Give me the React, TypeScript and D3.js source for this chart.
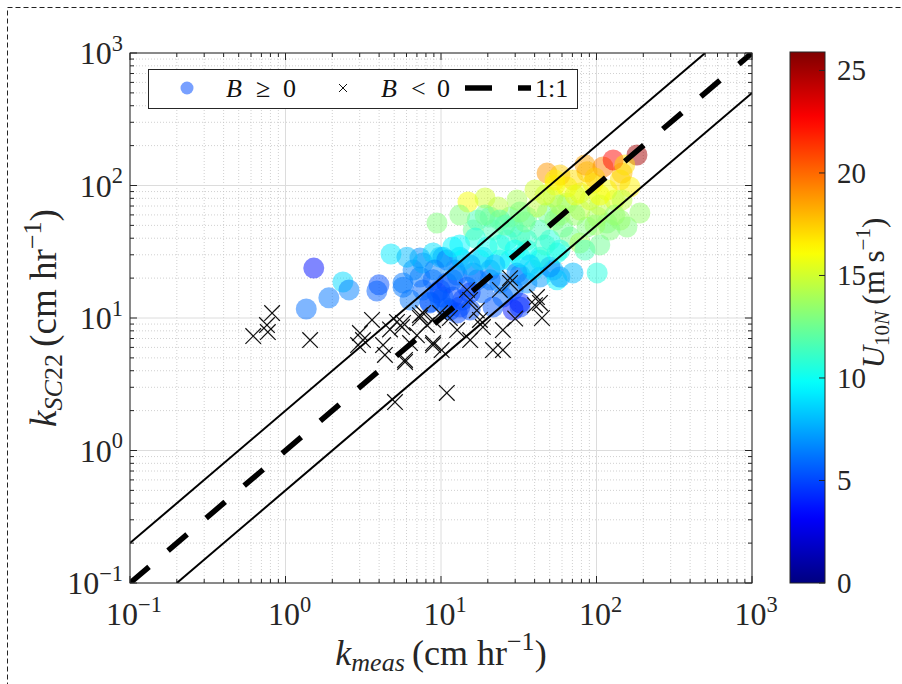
import React from 'react';
import * as d3 from 'd3';

// ---- data: B >= 0 (circles) ----
const kMeasPos = [1.52, 1.36, 1.90, 2.34, 2.56, 3.99, 3.87, 4.77, 5.70, 7.32, 8.89, 7.32, 8.49, 9.86, 10.3, 10.9, 9.42,
  5.70, 6.61, 7.66, 8.89, 9.42, 8.49, 11.9, 13.2, 14.7, 17.1, 18.6, 21.6, 25.0, 29.1, 32.2, 23.9, 35.7, 43.3, 52.5, 55.7,
  6.04, 9.86, 13.2, 18.6, 27.8, 43.3, 10.9, 12.7, 15.4, 11.4, 9.86, 13.8, 20.7, 29.1, 32.2, 7.66, 6.32, 12.7, 15.4,
  58.2, 70.6, 50.2, 39.1, 30.8, 20.7, 16.1, 11.9, 10.3, 32.2, 101,
  10.9, 13.8, 17.8, 23.9, 32.2, 43.3, 55.7, 35.7, 11.9, 19.8, 26.6, 35.7, 50.2, 67.6, 78.3,
  21.6, 29.1, 43.3, 60.9, 86.9, 117, 157, 16.1, 17.1, 20.7, 27.8, 35.7, 48.1, 64.6, 78.3, 101, 142, 190,
  14.9, 19.2, 23.3, 30.8, 41.4, 52.5, 78.3, 117, 94.9, 164, 64.6, 70.6, 48.1, 86.9, 146, 110, 128, 182,
  23.9, 32.2, 58.2, 90.8, 105, 131, 40.2, 54.0, 142, 84.3, 105, 146, 122,
  13.2, 16.6, 23.9, 29.9, 46.7, 58.2, 15.4, 22.2, 37.3, 12.3, 9.1,
  25.8, 34.7, 54.0, 72.8, 97.7, 131, 58.2, 32.2, 19.2, 13.2, 46.7, 72.8, 105,
  84.3, 58.2, 152, 97.7, 54.0];
const kSc22Pos = [23.8, 11.7, 14.2, 18.7, 16.3, 17.8, 16.0, 30.4, 17.1, 28.4, 31.0, 20.4, 13.2, 16.3, 28.8, 11.9, 52.1,
  18.4, 23.0, 26.0, 19.4, 15.5, 13.0, 14.4, 12.1, 17.1, 19.4, 15.5, 12.1, 14.4, 11.5, 12.1, 18.4, 18.4, 20.4, 23.0, 19.4,
  28.8, 28.8, 28.8, 28.8, 27.4, 27.4, 18.4, 21.1, 15.5, 11.5, 13.7, 13.7, 23.0, 16.3, 21.1, 16.3, 13.7, 10.9, 11.5,
  20.4, 21.9, 24.3, 23.0, 21.9, 19.4, 21.9, 19.4, 14.4, 13.0, 21.9,
  27.4, 27.4, 27.4, 27.4, 28.8, 28.8, 31.0, 32.6, 34.4, 34.4, 38.8, 38.8, 38.8, 40.8, 36.8,
  46.1, 48.6, 46.1, 48.6, 48.6, 52.1, 48.6, 46.1, 54.9, 57.8, 57.8, 57.8, 62.0, 73.8, 65.3, 57.8, 54.9, 62.0,
  75.1, 80.5, 68.9, 77.8, 68.9, 81.8, 87.8, 92.4, 104, 97.5, 97.5, 110, 124, 127, 124, 138, 156, 170,
  54.9, 42.3, 59.8, 77.8, 71.3, 77.8, 92.4, 101, 110, 32.6, 35.6, 77.8, 46.1,
  35.6, 40.2, 35.6, 32.6, 35.6, 32.6, 25.1, 25.1, 25.1, 23.0, 23.0,
  50.3, 53.1, 54.9, 59.8, 50.3, 59.8, 71.3, 63.1, 59.8, 59.8, 84.7, 84.7, 84.7,
  143, 120, 143, 114, 110];
const u10Pos = [3.6, 6.0, 6.2, 8.8, 6.5, 5.2, 5.6, 9.2, 6.2, 6.8, 9.0, 6.2, 5.6, 4.6, 7.2, 5.4, 13.0,
  6.2, 6.6, 7.5, 5.8, 5.0, 5.4, 5.0, 5.0, 5.4, 6.2, 5.8, 5.4, 5.8, 3.8, 4.8, 6.4, 6.8, 7.2, 8.0, 9.5,
  8.0, 8.5, 8.0, 8.5, 9.0, 9.5, 5.0, 5.8, 4.8, 5.4, 5.8, 5.0, 6.5, 6.2, 6.8, 5.8, 6.2, 5.0, 5.2,
  7.2, 8.0, 6.8, 9.0, 6.4, 6.2, 6.2, 5.8, 5.4, 4.0, 10.5,
  6.5, 9.0, 9.0, 9.5, 9.5, 10.5, 10.0, 10.0, 9.5, 10.0, 10.5, 11.0, 10.5, 12.5, 14.0,
  11.5, 11.0, 11.5, 12.5, 13.0, 13.0, 13.0, 12.5, 11.5, 12.0, 12.5, 12.5, 12.5, 13.5, 14.5, 14.0, 13.5, 13.5,
  16.0, 15.0, 14.5, 14.0, 14.5, 14.5, 15.5, 16.0, 16.5, 16.5, 16.0, 17.0, 18.8, 17.5, 18.0, 19.5, 22.5, 25.0,
  12.0, 11.5, 13.5, 15.0, 14.5, 15.5, 15.0, 16.0, 17.0, 11.5, 12.5, 14.5, 13.0,
  9.5, 10.5, 10.5, 10.0, 11.0, 10.5, 7.5, 8.0, 8.5, 7.0, 6.5,
  12.0, 12.5, 13.0, 13.5, 13.5, 13.5, 14.0, 13.0, 12.5, 13.0, 15.0, 15.5, 16.0,
  18.5, 17.5, 17.0, 17.5, 16.5];

// ---- data: B < 0 (crosses) ----
const kMeasNeg = [0.82, 0.76, 0.77, 0.62, 1.44, 3.60, 3.01, 3.15, 2.93, 4.24, 4.36, 5.87, 5.06, 5.21, 5.61, 7.32, 8.12,
  8.89, 10.1, 10.9, 7.66, 9.86, 5.70, 7.32, 8.89, 8.89, 5.87, 11.4, 12.7, 14.7, 15.4, 17.8, 18.6, 15.4, 25.0, 21.6,
  25.0, 23.9, 27.8, 27.8, 41.4, 43.3, 44.6, 40.2, 6.32, 7.0, 4.7, 17.0, 30.0];
const kSc22Neg = [10.9, 8.85, 7.83, 7.31, 6.82, 9.66, 7.70, 6.82, 6.25, 6.25, 5.26, 4.66, 2.32, 9.33, 8.55, 10.0, 8.85,
  6.25, 5.73, 2.72, 10.9, 10.9, 9.17, 10.5, 9.66, 6.47, 4.82, 10.0, 8.11, 16.3, 13.7, 9.66, 8.55, 6.82, 8.11, 5.73,
  5.73, 16.3, 20.0, 18.4, 14.4, 13.0, 10.0, 12.5, 6.47, 7.4, 8.2, 11.4, 9.9];

const decadeExps = [-1, 0, 1, 2, 3];
const cbTicks = [0, 5, 10, 15, 20, 25];
const U_MAX = 25.9;

const FONT = "'Liberation Serif', 'DejaVu Serif', serif";

function jet(t: number): string {
  const c = (v: number) => Math.max(0, Math.min(1, v));
  const r = c(1.5 - Math.abs(4 * t - 3));
  const g = c(1.5 - Math.abs(4 * t - 2));
  const b = c(1.5 - Math.abs(4 * t - 1));
  return `rgb(${Math.round(r * 255)},${Math.round(g * 255)},${Math.round(b * 255)})`;
}

function Pow10({ x, y, e, fs, anchor }: { x: number; y: number; e: number; fs: number; anchor: string }) {
  const es = e < 0 ? `\u2212${-e}` : `${e}`;
  return (
    <text x={x} y={y} fontSize={fs} textAnchor={anchor} fontFamily={FONT} fill="#262626">
      <tspan>10</tspan>
      <tspan dy={-fs * 0.42} fontSize={fs * 0.7}>{es}</tspan>
    </text>
  );
}

export default function App() {
  const L = 130, R = 752, T = 53, B = 583;
  const x = d3.scaleLog().domain([0.1, 1000]).range([L, R]);
  const y = d3.scaleLog().domain([0.1, 1000]).range([B, T]);
  const cbX0 = 790, cbX1 = 825;
  const cb = d3.scaleLinear().domain([0, U_MAX]).range([B, 52]);
  const cScale = d3.scaleLinear().domain([0, U_MAX]).range([0, 1]).clamp(true);

  const minors: number[] = [];
  for (let d = -1; d <= 2; d++) for (let m = 2; m <= 9; m++) minors.push(m * Math.pow(10, d));
  const majors = decadeExps.map((e) => Math.pow(10, e));

  const gridMajor = '#dcdcdc';
  const gridMinor = '#c4c4c4';
  const axisCol = '#262626';
  const majLen = 7, minLen = 4;

  const gradStops = d3.range(0, 1.0001, 0.02);

  const circles = kMeasPos.map((k, i) => ({ k, s: kSc22Pos[i], u: u10Pos[i] }));
  const crosses = kMeasNeg.map((k, i) => ({ k, s: kSc22Neg[i] }));
  const cs = 7.8;

  return (
    <svg width={902} height={684} style={{ position: 'absolute', left: 0, top: 0, background: '#fff' }}>
      <defs>
        <clipPath id="plotClip">
          <rect x={L} y={T} width={R - L} height={B - T} />
        </clipPath>
        <linearGradient id="jetGrad" x1="0" y1="1" x2="0" y2="0">
          {gradStops.map((t, i) => (
            <stop key={i} offset={t} stopColor={jet(t)} />
          ))}
        </linearGradient>
      </defs>
      <rect x={0} y={0} width={902} height={684} fill="#fff" />
      {/* outer dashed frame */}
      <rect x={7.5} y={7.5} width={920} height={720} fill="none" stroke="#222" strokeWidth={1} strokeDasharray="5 3" />

      {/* plot background */}
      <rect x={L} y={T} width={R - L} height={B - T} fill="#fff" />

      {/* grid */}
      <g>
        {minors.map((v, i) => (
          <g key={'mg' + i}>
            <line x1={x(v)} x2={x(v)} y1={T} y2={B} stroke={gridMinor} strokeWidth={0.8} strokeDasharray="1 2" />
            <line x1={L} x2={R} y1={y(v)} y2={y(v)} stroke={gridMinor} strokeWidth={0.8} strokeDasharray="1 2" />
          </g>
        ))}
        {majors.map((v, i) => (
          <g key={'Mg' + i}>
            <line x1={x(v)} x2={x(v)} y1={T} y2={B} stroke={gridMajor} strokeWidth={1} />
            <line x1={L} x2={R} y1={y(v)} y2={y(v)} stroke={gridMajor} strokeWidth={1} />
          </g>
        ))}
      </g>

      {/* scatter circles */}
      <g clipPath="url(#plotClip)">
        {circles.map((c, i) => (
          <circle key={'c' + i} cx={x(c.k)} cy={y(c.s)} r={10.5} fill={jet(cScale(c.u))} fillOpacity={0.5} />
        ))}
      </g>

      {/* crosses */}
      <g clipPath="url(#plotClip)" stroke="#111" strokeWidth={1.2}>
        {crosses.map((c, i) => {
          const cx = x(c.k), cy = y(c.s);
          return (
            <g key={'x' + i}>
              <line x1={cx - cs} y1={cy - cs} x2={cx + cs} y2={cy + cs} />
              <line x1={cx - cs} y1={cy + cs} x2={cx + cs} y2={cy - cs} />
            </g>
          );
        })}
      </g>

      {/* reference lines */}
      <g clipPath="url(#plotClip)" fill="none">
        <line x1={x(0.1)} y1={y(0.2)} x2={x(500)} y2={y(1000)} stroke="#000" strokeWidth={2} />
        <line x1={x(0.2)} y1={y(0.1)} x2={x(1000)} y2={y(500)} stroke="#000" strokeWidth={2} />
        <line x1={x(0.1)} y1={y(0.1)} x2={x(1000)} y2={y(1000)} stroke="#000" strokeWidth={5.5} strokeDasharray="25 25" />
      </g>

      {/* axes box and ticks */}
      <rect x={L} y={T} width={R - L} height={B - T} fill="none" stroke={axisCol} strokeWidth={1} />
      <g stroke={axisCol} strokeWidth={1}>
        {majors.map((v, i) => (
          <g key={'mt' + i}>
            <line x1={x(v)} x2={x(v)} y1={B} y2={B - majLen} />
            <line x1={x(v)} x2={x(v)} y1={T} y2={T + majLen} />
            <line x1={L} x2={L + majLen} y1={y(v)} y2={y(v)} />
            <line x1={R} x2={R - majLen} y1={y(v)} y2={y(v)} />
          </g>
        ))}
        {minors.map((v, i) => (
          <g key={'nt' + i}>
            <line x1={x(v)} x2={x(v)} y1={B} y2={B - minLen} />
            <line x1={x(v)} x2={x(v)} y1={T} y2={T + minLen} />
            <line x1={L} x2={L + minLen} y1={y(v)} y2={y(v)} />
            <line x1={R} x2={R - minLen} y1={y(v)} y2={y(v)} />
          </g>
        ))}
      </g>

      {/* tick labels */}
      {decadeExps.map((e) => (
        <Pow10 key={'xl' + e} x={x(Math.pow(10, e)) + 4} y={B + 42} e={e} fs={32} anchor="middle" />
      ))}
      {decadeExps.map((e) => (
        <Pow10 key={'yl' + e} x={L - 7} y={y(Math.pow(10, e)) + 11} e={e} fs={32} anchor="end" />
      ))}

      {/* axis labels */}
      <text x={441} y={665} textAnchor="middle" fontFamily={FONT} fontSize={36} fill="#262626">
        <tspan fontStyle="italic">k</tspan>
        <tspan fontStyle="italic" fontSize={26} dy={6}>meas</tspan>
        <tspan dy={-6}>{'\u2009(cm hr'}</tspan>
        <tspan fontSize={26} dy={-15}>{'\u22121'}</tspan>
        <tspan dy={15}>)</tspan>
      </text>
      <text transform="translate(56,318) rotate(-90)" textAnchor="middle" fontFamily={FONT} fontSize={37} fill="#262626">
        <tspan fontStyle="italic">k</tspan>
        <tspan fontStyle="italic" fontSize={26} dy={6}>SC</tspan>
        <tspan fontSize={26}>22</tspan>
        <tspan dy={-6}>{'\u2009(cm hr'}</tspan>
        <tspan fontSize={26} dy={-15}>{'\u22121'}</tspan>
        <tspan dy={15}>)</tspan>
      </text>

      {/* legend */}
      <rect x={148.5} y={69.5} width={429} height={39} fill="#fff" stroke={axisCol} strokeWidth={1} />
      <circle cx={187} cy={88} r={6.5} fill="#78a0ff" />
      <text y={97} fontFamily={FONT} fontSize={26} fill="#111">
        <tspan x={226} fontStyle="italic">B</tspan>
        <tspan x={256}>{'\u2265'}</tspan>
        <tspan x={283}>0</tspan>
      </text>
      <g stroke="#111" strokeWidth={1}>
        <line x1={339} y1={84} x2={347} y2={92} />
        <line x1={339} y1={92} x2={347} y2={84} />
      </g>
      <text y={97} fontFamily={FONT} fontSize={26} fill="#111">
        <tspan x={381} fontStyle="italic">B</tspan>
        <tspan x={411}>{'<'}</tspan>
        <tspan x={437}>0</tspan>
      </text>
      <line x1={465} y1={88} x2={531} y2={88} stroke="#000" strokeWidth={5.5} strokeDasharray="27 26" />
      <text x={535} y={97} fontFamily={FONT} fontSize={26} fill="#111">1:1</text>

      {/* colorbar */}
      <rect x={cbX0} y={52} width={cbX1 - cbX0} height={B - 52} fill="url(#jetGrad)" />
      <rect x={cbX0} y={52} width={cbX1 - cbX0} height={B - 52} fill="none" stroke={axisCol} strokeWidth={1} />
      <g stroke={axisCol} strokeWidth={1}>
        {cbTicks.map((t) => (
          <line key={'cbt' + t} x1={cbX1} x2={cbX1 - 6} y1={cb(t)} y2={cb(t)} />
        ))}
      </g>
      {cbTicks.map((t) => (
        <text key={'cbl' + t} x={837} y={cb(t) + 10} fontFamily={FONT} fontSize={29} fill="#262626">{t}</text>
      ))}
      <text transform="translate(884,293) rotate(-90)" textAnchor="middle" fontFamily={FONT} fontSize={31} fill="#262626">
        <tspan fontStyle="italic">U</tspan>
        <tspan fontSize={21} dy={5}>10</tspan>
        <tspan fontSize={21} fontStyle="italic">N</tspan>
        <tspan dy={-5}>{'\u2009(m s'}</tspan>
        <tspan fontSize={21} dy={-14}>{'\u22121'}</tspan>
        <tspan dy={14}>)</tspan>
      </text>
    </svg>
  );
}
